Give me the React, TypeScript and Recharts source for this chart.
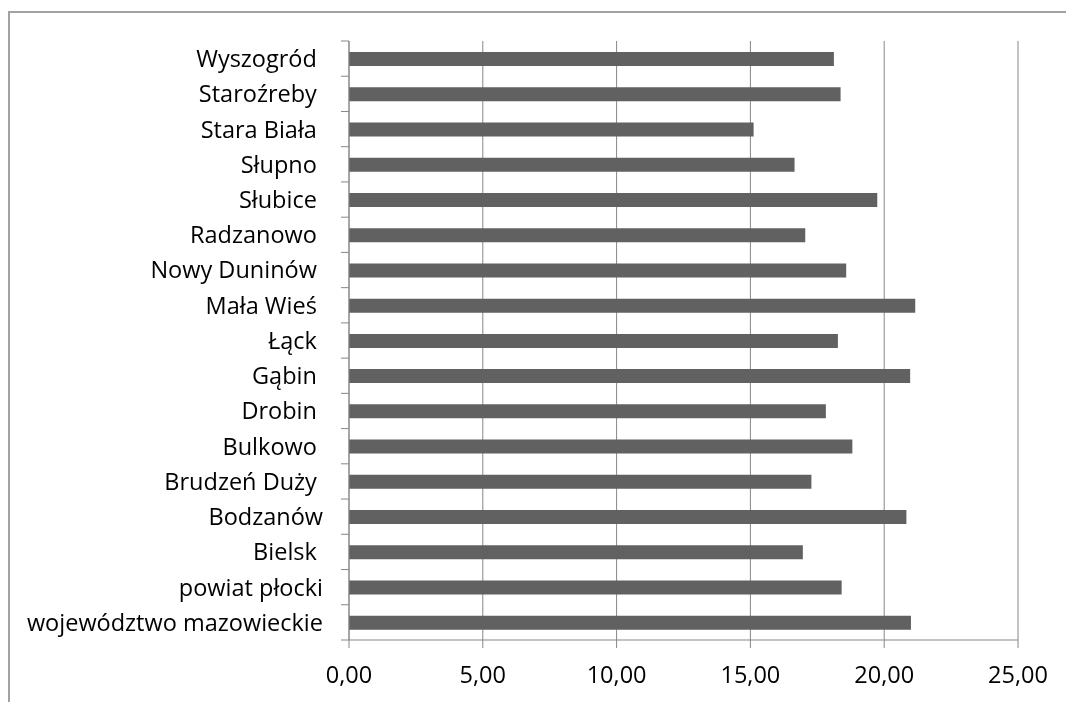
import React from "react";
import { BarChart, Bar, XAxis, YAxis, CartesianGrid } from "recharts";

const categories = [
  "Wyszogród ",
  "Staroźreby ",
  "Stara Biała ",
  "Słupno ",
  "Słubice ",
  "Radzanowo ",
  "Nowy Duninów ",
  "Mała Wieś ",
  "Łąck ",
  "Gąbin ",
  "Drobin ",
  "Bulkowo ",
  "Brudzeń Duży ",
  "Bodzanów",
  "Bielsk ",
  "powiat płocki",
  "województwo mazowieckie",
];

const values = [
  18.12, 18.37, 15.12, 16.65, 19.74, 17.05, 18.58, 21.16, 18.27, 20.97, 17.82,
  18.81, 17.28, 20.83, 16.96, 18.41, 21.0,
];

const xTicks = [0, 5, 10, 15, 20, 25];

const data = categories.map((name, i) => ({ name, value: values[i] }));

const W = 1058;
const H = 694;
const M_TOP = 33;
const M_RIGHT = 48;
const Y_W = 341;
const X_H = 62;
const PLOT_H = H - M_TOP - X_H;
const BAND = PLOT_H / categories.length;
const AXIS_X = Y_W;
const AXIS_Y = H - X_H;
const GRAY = "#878787";
const FONT = "'Open Sans', 'Noto Sans', sans-serif";
const FS = 23.5;

const fmt = (v: number) => v.toFixed(2).replace(".", ",");

const YTick = (props: any) => {
  const { y, payload, index } = props;
  const top = y - BAND / 2;
  const bottom = y + BAND / 2;
  return (
    <g>
      <line x1={AXIS_X - 8} x2={AXIS_X} y1={top} y2={top} stroke={GRAY} strokeWidth={1} />
      {index === categories.length - 1 && (
        <line x1={AXIS_X - 8} x2={AXIS_X} y1={bottom} y2={bottom} stroke={GRAY} strokeWidth={1} />
      )}
      <text
        x={AXIS_X - 26}
        y={y}
        dy="0.36em"
        textAnchor="end"
        xmlSpace="preserve"
        style={{ whiteSpace: "pre" }}
        fontFamily={FONT}
        fontSize={FS}
        fill="#000"
      >
        {payload.value}
      </text>
    </g>
  );
};

const XTick = (props: any) => {
  const { x, payload } = props;
  return (
    <text
      x={x}
      y={AXIS_Y + 43}
      textAnchor="middle"
      fontFamily={FONT}
      fontSize={FS}
      fill="#000"
    >
      {fmt(payload.value)}
    </text>
  );
};

export default function App() {
  return (
    <div style={{ position: "relative", width: W, height: 686, overflow: "hidden" }}>
      <div
        style={{
          position: "fixed",
          top: 11,
          left: 8,
          width: 1200,
          height: 900,
          borderTop: "2px solid #a2a2a2",
          borderLeft: "2px solid #a2a2a2",
          boxSizing: "border-box",
        }}
      />
      <div style={{ position: "absolute", top: 0, left: 0 }}>
        <BarChart
          layout="vertical"
          width={W}
          height={H}
          data={data}
          margin={{ top: M_TOP, right: M_RIGHT, bottom: 0, left: 0 }}
          barCategoryGap={0}
        >
          <CartesianGrid horizontal={false} stroke={GRAY} strokeWidth={1} />
          <XAxis
            type="number"
            domain={[0, 25]}
            ticks={xTicks}
            interval={0}
            height={X_H}
            tickSize={8}
            axisLine={{ stroke: GRAY }}
            tickLine={{ stroke: GRAY }}
            tick={<XTick />}
          />
          <YAxis
            type="category"
            dataKey="name"
            width={Y_W}
            interval={0}
            axisLine={{ stroke: GRAY }}
            tickLine={false}
            tick={<YTick />}
          />
          <Bar dataKey="value" fill="#616161" barSize={14} isAnimationActive={false} />
        </BarChart>
      </div>
    </div>
  );
}
